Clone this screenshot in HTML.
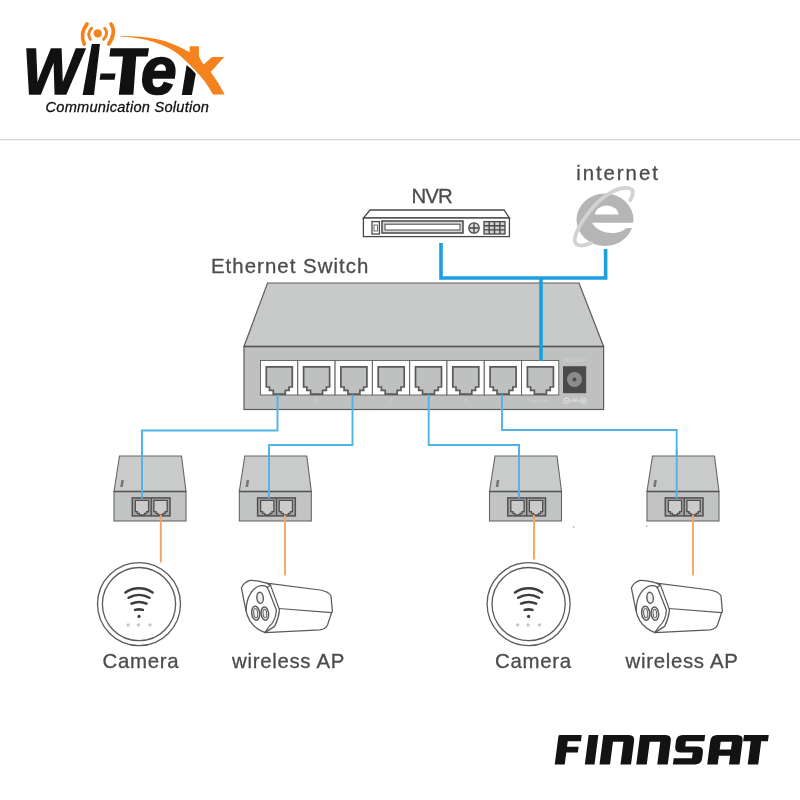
<!DOCTYPE html>
<html><head><meta charset="utf-8">
<style>
html,body{margin:0;padding:0;background:#fff;}
body{width:800px;height:800px;overflow:hidden;position:relative;font-family:"Liberation Sans",sans-serif;}
svg{position:absolute;left:0;top:0;filter:blur(0.5px);}
text{font-family:"Liberation Sans",sans-serif;}
.lbl{fill:#4c4c4c;stroke:#4c4c4c;stroke-width:0.3px;font-size:20.4px;letter-spacing:0.7px;}
</style></head><body>
<svg width="800" height="800" viewBox="0 0 800 800">
<defs>
  <!-- RJ45 port for switch: 37.3 x 34.5 -->
  <g id="sp">
    <rect x="0" y="0" width="37.2" height="34.5" fill="#fdfdfd" stroke="#5e5e5e" stroke-width="0.9"/>
    <path d="M5.8 6.3 H31.8 V26.5 H28.6 V29.8 H24.8 V33.6 H12.8 V29.8 H9 V26.5 H5.8 Z" fill="#bfc0c0" stroke="#5a5a5a" stroke-width="1.7" stroke-linejoin="miter"/>
  </g>
  <!-- PoE injector, origin at top-left of bounding box (72 wide) -->
  <g id="poe">
    <path d="M5.5 0 H67.5 L72 35.5 H0 Z" fill="#c9caca" stroke="#666" stroke-width="1.1"/>
    <rect x="0" y="35.5" width="72" height="29.5" fill="#c2c3c3" stroke="#666" stroke-width="1.1"/>
    <path d="M0 35.5 H72" stroke="#555" stroke-width="1.5"/>
    <rect x="18.3" y="41.9" width="37.7" height="18" fill="#a6a6a6" stroke="#505050" stroke-width="1.5"/>
    <path d="M37.2 42 V60" stroke="#505050" stroke-width="1.4"/>
    <path d="M21.3 44.3 H34.6 V55.6 H32.6 V57.3 H30.6 V59 H25.3 V57.3 H23.3 V55.6 H21.3 Z" fill="#cbcbcb" stroke="#4f4f4f" stroke-width="1.3"/>
    <path d="M39.9 44.3 H53.2 V55.6 H51.2 V57.3 H49.2 V59 H43.9 V57.3 H41.9 V55.6 H39.9 Z" fill="#cbcbcb" stroke="#4f4f4f" stroke-width="1.3"/>
    <path d="M6.2 31 l1.1 -7 h2.6 l-1.1 7 z" fill="#777"/>
  </g>
  <!-- round camera (AP-like) centred at 0,0 -->
  <g id="cam">
    <circle r="41.5" fill="#fff" stroke="#5a5a5a" stroke-width="1.3"/>
    <circle r="36.6" fill="#fff" stroke="#5a5a5a" stroke-width="1.3"/>
    <g fill="none" stroke="#3c3c3c" stroke-width="2.5" stroke-linecap="round">
      <path d="M-13.6 -11.6 A24 24 0 0 1 13.6 -11.6"/>
      <path d="M-10.4 -6.3 A20 20 0 0 1 10.4 -6.3"/>
      <path d="M-7.6 -0.5 A19 19 0 0 1 7.6 -0.5"/>
      <path d="M-3.9 5.8 A15 15 0 0 1 3.9 5.8"/>
    </g>
    <circle cx="0" cy="12.3" r="1.6" fill="#3c3c3c"/>
    <g fill="#c4c4c4"><circle cx="-10.9" cy="20.8" r="1.7"/><circle cx="-0.5" cy="20.8" r="1.7"/><circle cx="10.9" cy="20.8" r="1.7"/></g>
  </g>
  <!-- bullet camera, origin top-left of bbox 92 x 55 -->
  <g id="bul" fill="#fff" stroke="#5a5a5a" stroke-width="1.25" stroke-linejoin="round" stroke-linecap="round">
    <path d="M25.4 4.1 L79 11 Q88 12.5 90 17 L91.4 32.3 L90 35.5 L86.5 46 Q84.5 50 79 50.8 L24 53.6 Z"/>
    <path d="M37.8 29.5 L90.6 33.6" fill="none"/>
    <path d="M8.9 1.3 Q2.5 3.5 0.4 8.9 L4.8 30.9 Q6 37 8.9 41.9 Q14 50 24 53.6 L33.6 47.4 Q37.5 40 38.5 30.9 L29.5 6.1 L25.4 4.1 Q16 1 8.9 1.3 Z"/>
    <path d="M5.2 32 C5 18 12 7.5 20.5 6.6 C24 6.3 26.5 8 27.3 10.4 L35.4 31 C35 39 32 44 28.6 47 L24 53.2" fill="none"/>
    <path d="M29.5 6.1 L26 8.6" fill="none"/>
    <ellipse cx="19.1" cy="18.8" rx="3.2" ry="5.6" transform="rotate(-6 19.1 18.8)" fill="#f0f0f0" stroke-width="1.4"/>
    <ellipse cx="14.7" cy="34.2" rx="4" ry="7" transform="rotate(-6 14.7 34.2)" stroke-width="1.5"/>
    <ellipse cx="23.9" cy="34.6" rx="3.7" ry="6.7" transform="rotate(-6 23.9 34.6)" stroke-width="1.5"/>
    <ellipse cx="14.7" cy="34.2" rx="2" ry="4.6" transform="rotate(-6 14.7 34.2)" fill="#f0f0f0" stroke-width="1"/>
    <ellipse cx="23.9" cy="34.6" rx="1.8" ry="4.3" transform="rotate(-6 23.9 34.6)" fill="#f0f0f0" stroke-width="1"/>
  </g>
</defs>

<!-- separator -->
<rect x="0" y="139" width="800" height="1.4" fill="#d9d9d9"/>

<!-- switch -->
<path d="M267.5 283 H579 L603.6 346.5 H244 Z" fill="#c8c9c9" stroke="#5c5c5c" stroke-width="1.2"/>
<rect x="244" y="346.5" width="359.6" height="63" fill="#bfc0c0" stroke="#5c5c5c" stroke-width="1.2"/>
<path d="M244 346.5 H603.6" stroke="#555" stroke-width="1.6"/>
<g id="ports">
  <use href="#sp" x="260.5" y="360.5"/><use href="#sp" x="297.8" y="360.5"/><use href="#sp" x="335.1" y="360.5"/><use href="#sp" x="372.4" y="360.5"/>
  <use href="#sp" x="409.7" y="360.5"/><use href="#sp" x="447" y="360.5"/><use href="#sp" x="484.3" y="360.5"/><use href="#sp" x="521.6" y="360.5"/>
</g>
<rect x="563" y="366.2" width="23.2" height="27" fill="#4b4b4b"/>
<circle cx="574.5" cy="379.5" r="7.5" fill="#8c8c8c"/><circle cx="574.5" cy="379.5" r="2" fill="#4e4e4e"/>

<!-- tiny switch labels -->
<g fill="#d6d6d6" style="font-size:4.6px;font-family:'Liberation Sans',sans-serif">
  <text x="563.5" y="362">DC12-24V</text>
  <text x="527" y="402.3" style="font-size:4.4px;letter-spacing:0.2px">7 Up Link</text>
  <text x="315" y="402.3">1</text><text x="390" y="402.3">3</text><text x="464.7" y="402.3">5</text>
</g>
<g fill="none" stroke="#d9d9d9" stroke-width="1.1">
  <circle cx="566.5" cy="400.7" r="2.6"/><circle cx="583.5" cy="400.7" r="2.6"/>
  <path d="M569 400.7 H581 M565 400.7 H568 M582 400.7 H585 M583.5 399.2 V402.2"/>
  <path d="M572.5 400.7 a2.5 2.5 0 1 1 5 0" stroke-width="1"/>
</g>
<circle cx="575" cy="400.7" r="1.1" fill="#d9d9d9"/>
<circle cx="573.6" cy="527" r="0.8" fill="#9a9a9a"/><circle cx="646.6" cy="526.2" r="0.8" fill="#9a9a9a"/>

<!-- thin blue lines -->
<g fill="none" stroke="#50b3e5" stroke-width="1.9">
  <path d="M277.5 394.5 V430.5 H142 V500"/>
  <path d="M352.5 394.5 V445 H269 V500"/>
  <path d="M428.7 394.5 V445 H519 V500"/>
  <path d="M502 394.5 V430 H676.7 V500"/>
</g>

<!-- thick blue -->
<path d="M441 243 V278 H605.6 V249 M541 278 V361" fill="none" stroke="#1b9fe1" stroke-width="3.6"/>

<!-- redraw thin blue over poe later -->

<!-- PoE injectors -->
<use href="#poe" x="114" y="456"/>
<use href="#poe" x="239.3" y="456"/>
<use href="#poe" x="489.5" y="456"/>
<use href="#poe" x="647" y="456"/>
<g fill="none" stroke="#50b3e5" stroke-width="1.9">
  <path d="M142 450 V498.5"/><path d="M269 450 V498.5"/><path d="M519 450 V498.5"/><path d="M676.7 450 V498.5"/>
</g>

<!-- orange lines -->
<g stroke="#f2a663" stroke-width="1.9" fill="none">
  <path d="M160.8 515 V562.5"/><path d="M285 515 V575.5"/><path d="M534 515 V559.5"/><path d="M693 515 V575.5"/>
</g>

<!-- cameras -->
<use href="#cam" x="139" y="604.1"/>
<use href="#cam" x="528.6" y="604.1"/>
<use href="#bul" x="241" y="579"/>
<use href="#bul" x="631" y="579"/>

<!-- NVR -->
<g stroke="#484848" stroke-width="1.3" fill="#fff">
  <path d="M370 210 H504 L509.4 218 H363.4 Z"/>
  <rect x="363.4" y="218" width="146" height="18.6"/>
  <rect x="372" y="221.6" width="7.4" height="12.4"/>
  <rect x="374" y="225" width="3.4" height="6" stroke-width="0.8"/>
  <rect x="382" y="221" width="81" height="12" fill="#d8d8d8" stroke-width="1.5"/>
  <rect x="385" y="224.2" width="75" height="5.8" stroke-width="1"/>
  <circle cx="474" cy="228" r="5.2" fill="#ddd"/>
  <path d="M474 223 V233 M469 228 H479" stroke-width="1.4"/>
  <rect x="484" y="221.6" width="21" height="12.4" fill="#d0d0d0"/>
  <path d="M489.2 221.6 V234 M494.5 221.6 V234 M499.8 221.6 V234 M484 225.7 H505 M484 229.9 H505" stroke-width="1.4"/>
</g>

<!-- labels -->
<text class="lbl" x="411.6" y="203" style="letter-spacing:-1px">NVR</text>
<text class="lbl" x="576.2" y="180" style="letter-spacing:1.95px">internet</text>
<text class="lbl" x="210.9" y="273" style="letter-spacing:1.05px">Ethernet Switch</text>
<text class="lbl" x="102.5" y="668">Camera</text>
<text class="lbl" x="232" y="668">wireless AP</text>
<text class="lbl" x="495" y="668">Camera</text>
<text class="lbl" x="625.5" y="668">wireless AP</text>

<!-- IE logo -->
<g id="ie">
  <ellipse cx="605" cy="219.8" rx="28.5" ry="26.2" fill="#b5b5b5"/>
  <path d="M595 214.5 A11.75 9 0 0 1 618.5 214.5 Z" fill="#fff"/>
  <path d="M592 222.8 H636 V228 L626.5 228 C620 235 600 236 592 222.8 Z" fill="#fff"/>
  <path d="M630.3 200 Q634.3 193 632 189.5 Q626 185.8 613.5 191 Q596.5 199.5 583 220.5 Q571.5 238.5 576.2 244 Q581 247.5 591 243" fill="none" stroke="#d2d2d2" stroke-width="3.8" stroke-linecap="round"/>
</g>

<!-- Wi-Tek logo -->
<g id="witek">
  <g style="font-size:64.5px;font-weight:bold;font-style:italic;fill:#111;stroke:#111;stroke-width:1.6px;stroke-linejoin:miter">
    <text transform="translate(22.6 94.3) scale(0.955 1)">W</text>
    <text transform="translate(140.8 94.2) scale(1.0 1.06)">e</text>
  </g>
  <path d="M91.8 44 H100 L94 95 H82.6 Z" fill="#111"/>
  <path d="M110.4 48.2 H149 L147.7 56.5 H136.2 L133.4 94.8 H118.8 L123 56.5 H109.4 Z" fill="#111"/>
  <path d="M100.6 73.4 H115.6 L114.6 79.8 H99.6 Z" fill="#111"/>
  <path d="M186.6 65 Q192 69 195.8 73.7 L191.9 95 H181.8 Z" fill="#111"/>
  <path fill="#f4831f" d="M120 36 C140 35.5 160 38.5 170 43 C178 46 184 49 189.7 52.3 L189.7 46.2 H198.9 V56.2 Q201 61 203.7 64.6 L212 57.1 H224.2 L210.7 72 Q219 83 224.7 94.6 H212.9 C207 84 203 79 198.9 74.6 C195 70 191 66 187.5 62.8 C182 57 176 52 170 48.8 C155 41 140 37.5 120 36.6 Z"/>
  <circle cx="97.7" cy="33.4" r="4.2" fill="#f4831f"/>
  <g fill="none" stroke="#f4831f" stroke-linecap="round">
    <path d="M87 24 Q79.6 33.5 84.2 44" stroke-width="3.7"/>
    <path d="M111 24 Q116.8 32 108.7 44" stroke-width="3.7"/>
    <path d="M91.5 28.2 Q86.6 33.7 90.4 39.4" stroke-width="2.9"/>
    <path d="M104.6 28.2 Q109.3 32.8 103.6 39.4" stroke-width="2.9"/>
  </g>
  <text x="45.5" y="112" style="font-size:14.6px;font-style:italic;fill:#111;stroke:#111;stroke-width:0.3px;letter-spacing:0.25px">Communication Solution</text>
</g>

<!-- FINNSAT -->
<g id="finnsat" fill="#131313" transform="translate(0 764.4) skewX(-7.5)" fill-rule="evenodd">
  <path transform="translate(554.7 0)" d="M0 0 V-28 Q0 -29.4 1.4 -29.4 H23.2 V-23.1 H10 V-17.7 H21.6 V-12 H10 V0 Z"/>
  <path transform="translate(584.8 0)" d="M0 0 V-29.4 H9.7 V0 Z"/>
  <path transform="translate(599.5 0)" d="M0 0 V-29.4 H25.5 Q31.5 -29.4 31.5 -23.4 V0 H21 V-22.7 H10.5 V0 Z"/>
  <path transform="translate(636.25 0)" d="M0 0 V-29.4 H25.5 Q31.5 -29.4 31.5 -23.4 V0 H21 V-22.7 H10.5 V0 Z"/>
  <path transform="translate(672.9 0)" d="M0 0 V-6.1 H18.3 V-11.8 H6 Q0 -11.8 0 -17.8 V-23.4 Q0 -29.4 6 -29.4 H28.4 V-23.2 H10 V-17.9 H22.4 Q28.4 -17.9 28.4 -11.9 V-6 Q28.4 0 22.4 0 Z"/>
  <path transform="translate(707.2 0)" d="M0 0 V-23.4 Q0 -29.4 6 -29.4 H26.3 Q32.3 -29.4 32.3 -23.4 V0 H21.8 V-8.7 H10.5 V0 Z M10.5 -15 V-22.7 H21.8 V-15 Z"/>
  <path transform="translate(740.1 0)" d="M0 -29.4 H24.8 V-23.1 H18.1 V0 H7.6 V-23.1 H0 Z"/>
</g>
</svg>
</body></html>
